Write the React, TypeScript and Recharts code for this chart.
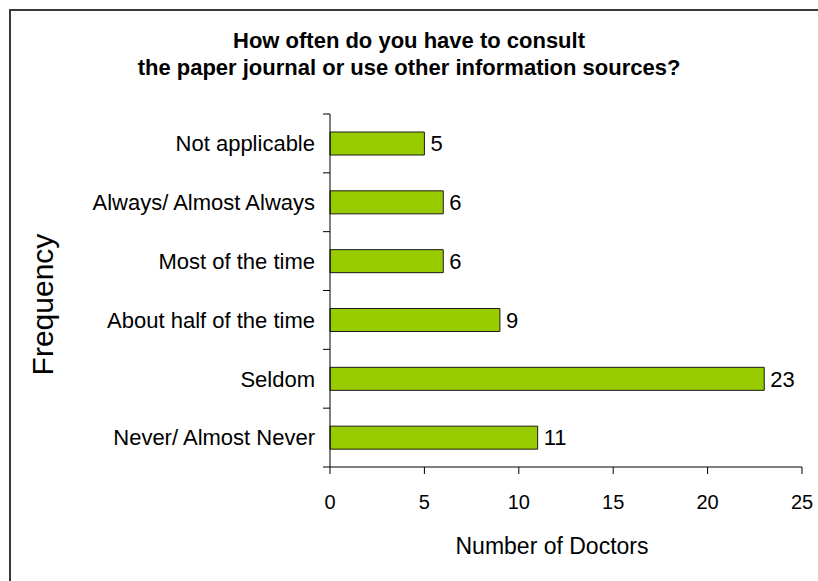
import React from 'react';
import { BarChart, Bar, XAxis, YAxis, LabelList } from 'recharts';

const categories = [
  'Not applicable',
  'Always/ Almost Always',
  'Most of the time',
  'About half of the time',
  'Seldom',
  'Never/ Almost Never',
];
const doctors = [5, 6, 6, 9, 23, 11];
const xTicks = [0, 5, 10, 15, 20, 25];
const titleLines = [
  'How often do you have to consult',
  'the paper journal or use other information sources?',
];
const xTitle = 'Number of Doctors';
const yTitle = 'Frequency';

const data = categories.map((name, i) => ({ name, value: doctors[i] }));

const FONT = '"Liberation Sans", Arial, Helvetica, sans-serif';
const TICK_MARGIN = 15;
const TICK_LEN = 7;

const XTitle = (props: any) => {
  const vb = props.viewBox || {};
  return (
    <text
      x={vb.x + vb.width / 2 - 14}
      y={vb.y + 87}
      textAnchor="middle"
      fontSize={23}
      fontFamily={FONT}
      fill="#000"
    >
      {xTitle}
    </text>
  );
};

const YTitle = (props: any) => {
  const vb = props.viewBox || {};
  const cx = vb.x + 53;
  const cy = vb.y + vb.height / 2 + 14;
  return (
    <text
      x={cx}
      y={cy}
      transform={`rotate(-90, ${cx}, ${cy})`}
      textAnchor="middle"
      fontSize={30}
      fontFamily={FONT}
      fill="#000"
    >
      {yTitle}
    </text>
  );
};

const CatTick = (props: any) => {
  const { x, y, payload, index, height, visibleTicksCount } = props;
  const count = visibleTicksCount || categories.length;
  const band = height && count ? height / count : 58.8;
  const axisX = x + TICK_MARGIN;
  const top = y - band / 2;
  const bottom = y + band / 2;
  return (
    <g>
      <line x1={axisX - TICK_LEN} x2={axisX} y1={top} y2={top} stroke="#000" strokeWidth={1} />
      {index === count - 1 && (
        <line x1={axisX - TICK_LEN} x2={axisX} y1={bottom} y2={bottom} stroke="#000" strokeWidth={1} />
      )}
      <text
        x={x}
        y={y}
        dy="0.355em"
        textAnchor="end"
        fontSize={22}
        fontFamily={FONT}
        fill="#000"
      >
        {payload.value}
      </text>
    </g>
  );
};

export default function App() {
  return (
    <div
      style={{
        position: 'absolute',
        left: 0,
        top: 0,
        width: 818,
        height: 581,
        background: '#fff',
        overflow: 'hidden',
        fontFamily: FONT,
      }}
    >
      <div
        style={{
          position: 'absolute',
          left: 9,
          top: 9,
          width: 900,
          height: 700,
          borderTop: '2px solid #3a3a3a',
          borderLeft: '2px solid #3a3a3a',
          boxSizing: 'border-box',
        }}
      />
      <div
        style={{
          position: 'absolute',
          left: 0,
          top: 27,
          width: 818,
          textAlign: 'center',
          fontWeight: 'bold',
          fontSize: 22,
          lineHeight: '27px',
          color: '#000',
        }}
      >
        {titleLines.map((t) => (
          <div key={t}>{t}</div>
        ))}
      </div>
      <div style={{ position: 'absolute', left: 0, top: 0 }}>
        <BarChart
          width={818}
          height={581}
          data={data}
          layout="vertical"
          margin={{ top: 114, right: 16, left: 0, bottom: 0 }}
        >
          <XAxis
            type="number"
            domain={[0, 25]}
            ticks={xTicks}
            interval={0}
            tickSize={TICK_LEN}
            tickMargin={21}
            height={114}
            axisLine={{ stroke: '#000' }}
            tickLine={{ stroke: '#000' }}
            tick={{ fontSize: 20, fill: '#000', fontFamily: FONT }}
            label={<XTitle />}
          />
          <YAxis
            type="category"
            dataKey="name"
            width={330}
            interval={0}
            axisLine={{ stroke: '#000' }}
            tickLine={false}
            tickSize={0}
            tickMargin={TICK_MARGIN}
            tick={<CatTick />}
            label={<YTitle />}
          />
          <Bar
            dataKey="value"
            fill="#99CC00"
            stroke="#1a1a1a"
            strokeWidth={1}
            barSize={23}
            isAnimationActive={false}
          >
            <LabelList
              dataKey="value"
              position="right"
              offset={6}
              fontSize={22}
              fill="#000"
              fontFamily={FONT}
            />
          </Bar>
        </BarChart>
      </div>
    </div>
  );
}
